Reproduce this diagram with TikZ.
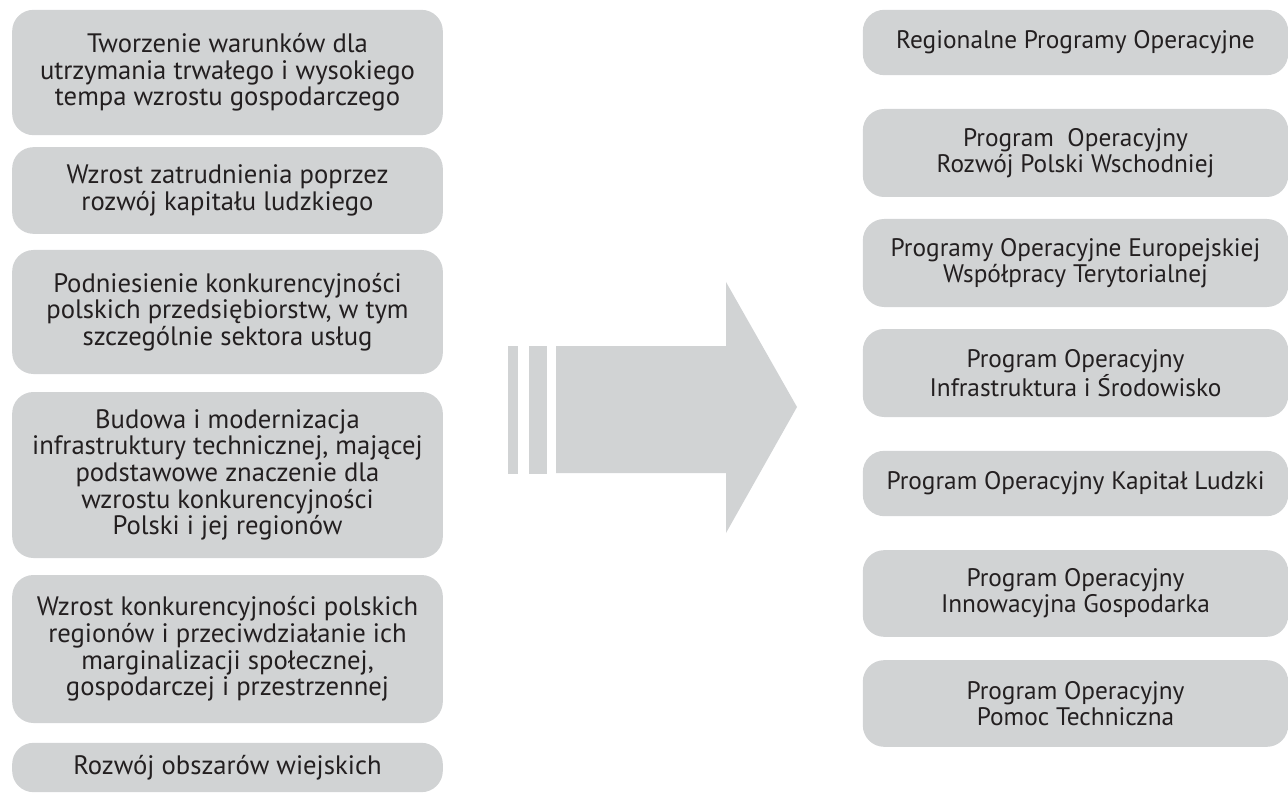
\documentclass[tikz,border=0pt]{standalone}
\usepackage{fontspec}
\setmainfont{PT Sans}
\usetikzlibrary{positioning}
\definecolor{szary}{HTML}{D1D3D4}
\definecolor{tekst}{HTML}{231F20}
\tikzset{
  cel/.style={fill=szary,rounded corners=16pt,inner sep=0pt,align=center,
    text=tekst,minimum width=323pt,font=\fontsize{20}{20}\selectfont},
  prog/.style={cel,minimum width=319pt,font=\fontsize{19}{19.5}\selectfont},
  strz/.style={fill=szary},
}
\begin{document}
\begin{tikzpicture}[x=0.75pt,y=-0.75pt]
  \useasboundingbox (0,0) rectangle (1288,802);
  % cele (lewa kolumna)
  \node[cel,minimum height=94pt] (c1) at (227.5,72.5)
    {Tworzenie warunków dla\\utrzymania trwałego i wysokiego\\tempa wzrostu gospodarczego};
  \node[cel,minimum height=65pt] (c2) at (227.5,190.5)
    {Wzrost zatrudnienia poprzez\\rozwój kapitału ludzkiego};
  \node[cel,minimum height=93pt] (c3) at (227.5,312)
    {Podniesienie konkurencyjności\\polskich przedsiębiorstw, w tym\\szczególnie sektora usług};
  \node[cel,minimum height=124.5pt] (c4) at (227.5,475)
    {Budowa i modernizacja\\infrastruktury technicznej, mającej\\podstawowe znaczenie dla\\wzrostu konkurencyjności\\Polski i jej regionów};
  \node[cel,minimum height=111pt] (c5) at (227.5,649)
    {Wzrost konkurencyjności polskich\\regionów i przeciwdziałanie ich\\marginalizacji społecznej,\\gospodarczej i przestrzennej};
  \node[cel,minimum height=37pt] (c6) at (227.5,767.5)
    {Rozwój obszarów wiejskich};
  % programy (prawa kolumna)
  \node[prog,minimum height=49pt] (p1) at (1075.5,42.5)
    {Regionalne Programy Operacyjne};
  \node[prog,minimum height=66pt] (p2) at (1075.5,153)
    {Program~~Operacyjny\\Rozwój Polski Wschodniej};
  \node[prog,minimum height=66pt] (p3) at (1075.5,263)
    {Programy Operacyjne Europejskiej\\Współpracy Terytorialnej};
  \node[prog,minimum height=66pt] (p4) at (1075.5,373)
    {Program Operacyjny\\Infrastruktura i Środowisko};
  \node[prog,minimum height=49pt] (p5) at (1075.5,483.5)
    {Program Operacyjny Kapitał Ludzki};
  \node[prog,minimum height=65pt] (p6) at (1075.5,593.5)
    {Program Operacyjny\\Innowacyjna Gospodarka};
  \node[prog,minimum height=65pt] (p7) at (1075.5,703.5)
    {Program Operacyjny\\Pomoc Techniczna};
  % strzalka
  \fill[strz] (508,346) rectangle (518,474);
  \fill[strz] (529,346) rectangle (547,474);
  \fill[strz] (556,346) -- (726,346) -- (726,282) -- (797,407)
    -- (726,533) -- (726,473) -- (556,473) -- cycle;
\end{tikzpicture}
\end{document}
